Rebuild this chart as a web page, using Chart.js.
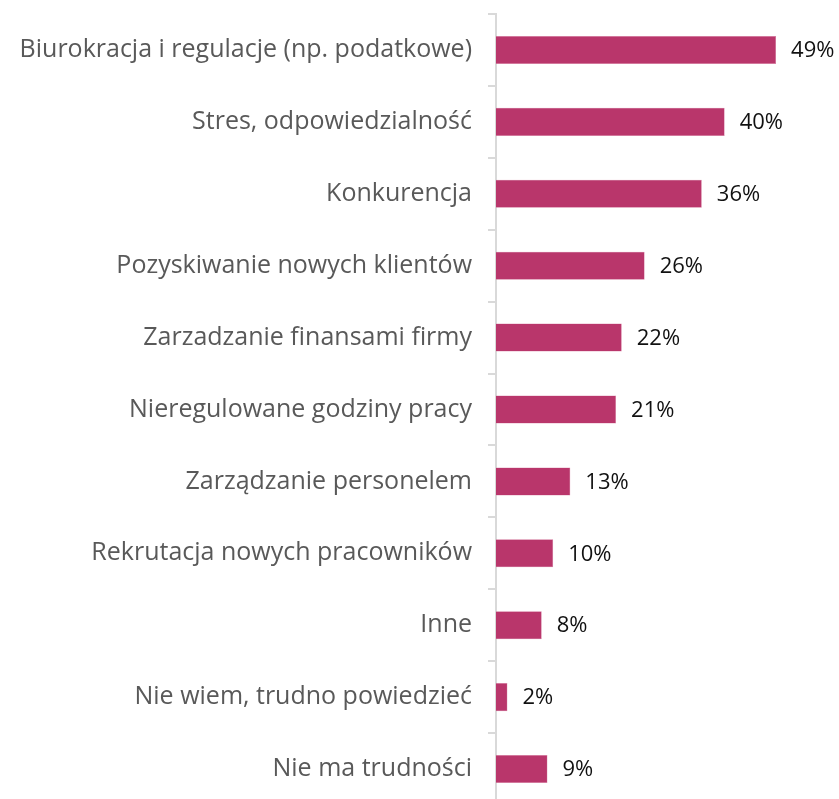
<!DOCTYPE html>
<html>
<head>
<meta charset="utf-8">
<script src="https://cdn.jsdelivr.net/npm/chart.js@4"></script>
<style>
  html, body { margin: 0; padding: 0; background: #fff; overflow: hidden; }
  #wrap { position: relative; width: 839px; height: 853px; margin-top: -17px; }
</style>
</head>
<body>
<div id="wrap"><canvas id="chart"></canvas></div>
<script>
const categories = [
  "Biurokracja i regulacje (np. podatkowe)",
  "Stres, odpowiedzialność",
  "Konkurencja",
  "Pozyskiwanie nowych klientów",
  "Zarzadzanie finansami firmy",
  "Nieregulowane godziny pracy",
  "Zarządzanie personelem",
  "Rekrutacja nowych pracowników",
  "Inne",
  "Nie wiem, trudno powiedzieć",
  "Nie ma trudności"
];
const values = [49, 40, 36, 26, 22, 21, 13, 10, 8, 2, 9];

const FONT = "'Open Sans', 'DejaVu Sans', sans-serif";

// value labels to the right of each bar
const valueLabels = {
  id: 'valueLabels',
  afterDatasetsDraw(chart) {
    const ctx = chart.ctx;
    const meta = chart.getDatasetMeta(0);
    ctx.save();
    ctx.fillStyle = '#111';
    ctx.font = '22px ' + FONT;
    ctx.textAlign = 'left';
    ctx.textBaseline = 'middle';
    meta.data.forEach((bar, i) => {
      ctx.fillText(values[i] + '%', bar.x + 15, bar.y + 1);
    });
    ctx.restore();
  }
};

const ctx = document.getElementById('chart').getContext('2d');
new Chart(ctx, {
  type: 'bar',
  data: {
    labels: categories,
    datasets: [{
      data: values,
      backgroundColor: '#B9366B',
      borderColor: '#D77BA0',
      borderWidth: 0.5,
      barPercentage: 0.39,
      categoryPercentage: 1.0
    }]
  },
  options: {
    indexAxis: 'y',
    responsive: true,
    maintainAspectRatio: false,
    animation: false,
    layout: { padding: 0 },
    plugins: { legend: { display: false }, tooltip: { enabled: false } },
    scales: {
      x: { display: false, min: 0, max: 60 },
      y: {
        afterFit(scale) { scale.width = 496; },
        border: { display: true, color: '#D9D9D9', width: 2 },
        grid: { drawOnChartArea: false, drawTicks: true, tickLength: 8, color: '#D9D9D9', lineWidth: 2, offset: true },
        ticks: { color: '#595959', font: { family: FONT, size: 25 }, padding: 16 }
      }
    }
  },
  plugins: [valueLabels]
});
</script>
</body>
</html>
